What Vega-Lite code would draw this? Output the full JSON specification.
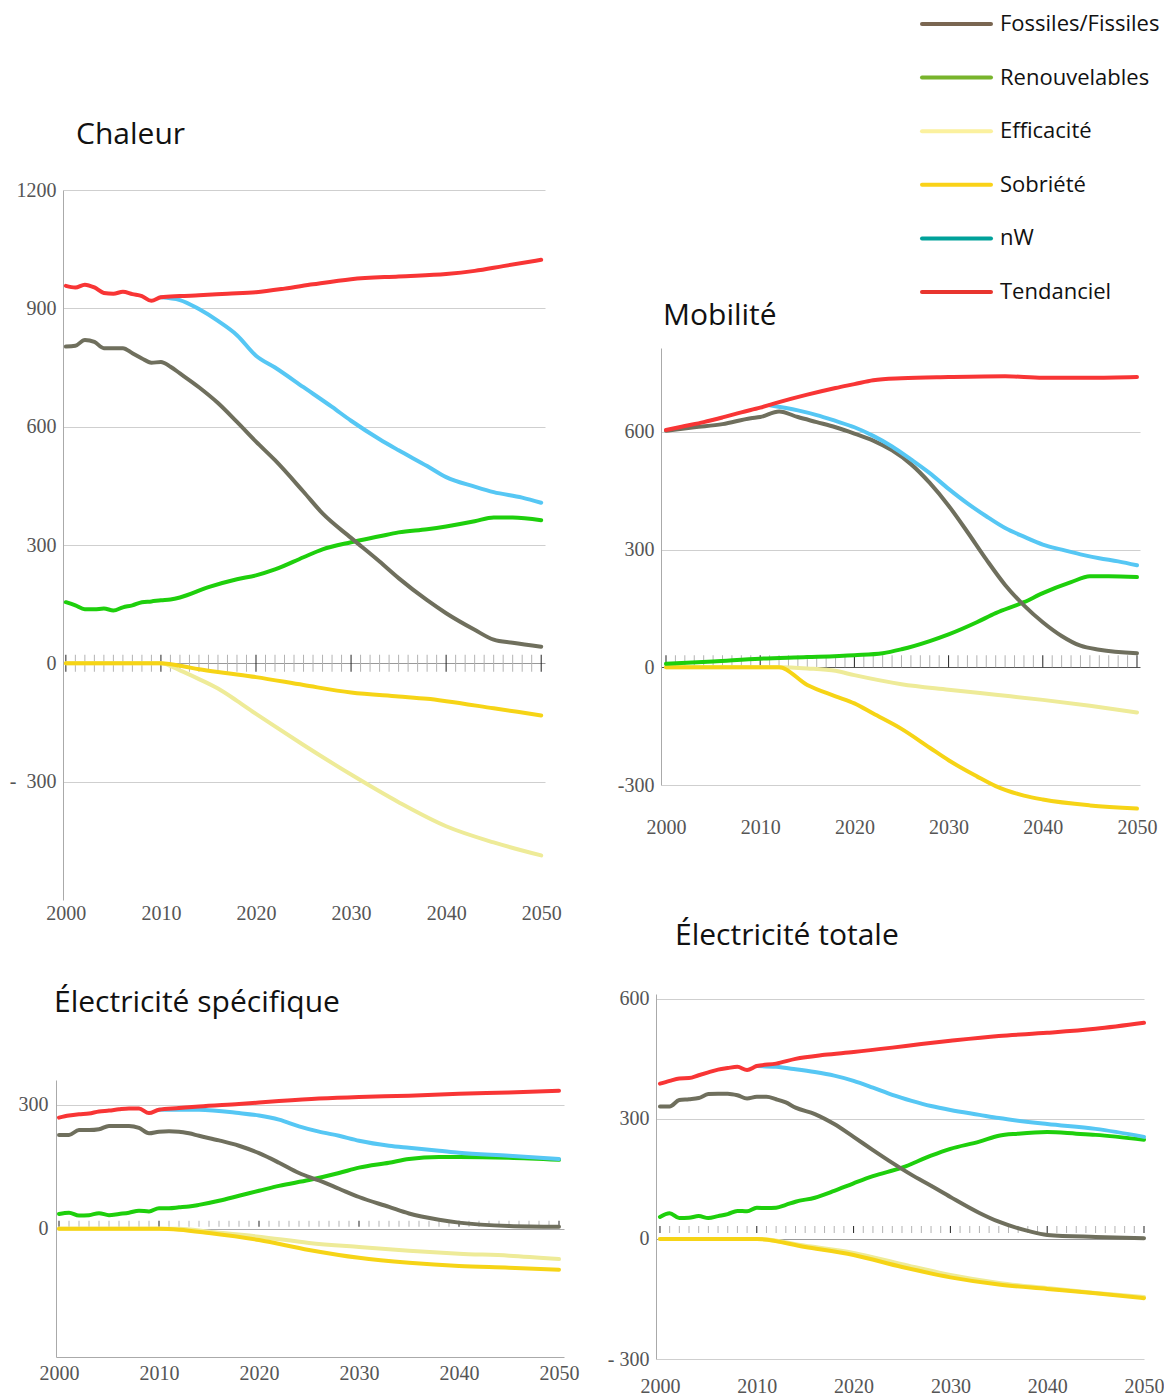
{
  "$schema": "https://vega.github.io/schema/vega-lite/v6.json",
  "background": "white",
  "padding": {"left": 9, "top": 0, "right": 0, "bottom": 0},
  "autosize": {"type": "pad"},
  "config": {
    "view": {"stroke": null},
    "axis": {"labelFont": "Liberation Serif", "labelFontSize": 20, "labelColor": "#555555", "ticks": false, "gridColor": "#cfcfcf", "domainColor": "#aaaaaa", "labelFlush": false, "labelOverlap": false},
    "title": {"font": "Open Sans", "fontSize": 30, "fontWeight": "normal", "color": "#111111", "anchor": "start", "frame": "group", "baseline": "alphabetic"}
  },
  "datasets": {
    "annees": [{"annee":2000},{"annee":2001},{"annee":2002},{"annee":2003},{"annee":2004},{"annee":2005},{"annee":2006},{"annee":2007},{"annee":2008},{"annee":2009},{"annee":2010},{"annee":2011},{"annee":2012},{"annee":2013},{"annee":2014},{"annee":2015},{"annee":2016},{"annee":2017},{"annee":2018},{"annee":2019},{"annee":2020},{"annee":2021},{"annee":2022},{"annee":2023},{"annee":2024},{"annee":2025},{"annee":2026},{"annee":2027},{"annee":2028},{"annee":2029},{"annee":2030},{"annee":2031},{"annee":2032},{"annee":2033},{"annee":2034},{"annee":2035},{"annee":2036},{"annee":2037},{"annee":2038},{"annee":2039},{"annee":2040},{"annee":2041},{"annee":2042},{"annee":2043},{"annee":2044},{"annee":2045},{"annee":2046},{"annee":2047},{"annee":2048},{"annee":2049},{"annee":2050}],
    "legende": [{"serie":"Fossiles/Fissiles"},{"serie":"Renouvelables"},{"serie":"Efficacité"},{"serie":"Sobriété"},{"serie":"nW"},{"serie":"Tendanciel"}],
    "chaleur": [
      {"serie":"Efficacité","annee":2000,"valeur":0},{"serie":"Efficacité","annee":2005,"valeur":0},{"serie":"Efficacité","annee":2010,"valeur":0},{"serie":"Efficacité","annee":2012,"valeur":-18},{"serie":"Efficacité","annee":2014,"valeur":-40},{"serie":"Efficacité","annee":2016,"valeur":-64},{"serie":"Efficacité","annee":2018,"valeur":-95},{"serie":"Efficacité","annee":2020,"valeur":-128},{"serie":"Efficacité","annee":2022,"valeur":-160},{"serie":"Efficacité","annee":2025,"valeur":-207},{"serie":"Efficacité","annee":2030,"valeur":-282},{"serie":"Efficacité","annee":2035,"valeur":-352},{"serie":"Efficacité","annee":2040,"valeur":-413},{"serie":"Efficacité","annee":2045,"valeur":-454},{"serie":"Efficacité","annee":2050,"valeur":-487},
      {"serie":"Sobriété","annee":2000,"valeur":0},{"serie":"Sobriété","annee":2005,"valeur":0},{"serie":"Sobriété","annee":2010,"valeur":0},{"serie":"Sobriété","annee":2012,"valeur":-6},{"serie":"Sobriété","annee":2014,"valeur":-15},{"serie":"Sobriété","annee":2017,"valeur":-25},{"serie":"Sobriété","annee":2020,"valeur":-35},{"serie":"Sobriété","annee":2025,"valeur":-55},{"serie":"Sobriété","annee":2030,"valeur":-74},{"serie":"Sobriété","annee":2035,"valeur":-84},{"serie":"Sobriété","annee":2038,"valeur":-90},{"serie":"Sobriété","annee":2040,"valeur":-96},{"serie":"Sobriété","annee":2045,"valeur":-114},{"serie":"Sobriété","annee":2050,"valeur":-132},
      {"serie":"Renouvelables","annee":2000,"valeur":155},{"serie":"Renouvelables","annee":2001,"valeur":147},{"serie":"Renouvelables","annee":2002,"valeur":137},{"serie":"Renouvelables","annee":2003,"valeur":137},{"serie":"Renouvelables","annee":2004,"valeur":139},{"serie":"Renouvelables","annee":2005,"valeur":134},{"serie":"Renouvelables","annee":2006,"valeur":142},{"serie":"Renouvelables","annee":2007,"valeur":147},{"serie":"Renouvelables","annee":2008,"valeur":155},{"serie":"Renouvelables","annee":2009,"valeur":157},{"serie":"Renouvelables","annee":2010,"valeur":160},{"serie":"Renouvelables","annee":2011,"valeur":162},{"serie":"Renouvelables","annee":2012,"valeur":167},{"serie":"Renouvelables","annee":2015,"valeur":193},{"serie":"Renouvelables","annee":2018,"valeur":213},{"serie":"Renouvelables","annee":2020,"valeur":223},{"serie":"Renouvelables","annee":2022,"valeur":238},{"serie":"Renouvelables","annee":2025,"valeur":269},{"serie":"Renouvelables","annee":2027,"valeur":289},{"serie":"Renouvelables","annee":2030,"valeur":307},{"serie":"Renouvelables","annee":2033,"valeur":322},{"serie":"Renouvelables","annee":2035,"valeur":332},{"serie":"Renouvelables","annee":2038,"valeur":340},{"serie":"Renouvelables","annee":2040,"valeur":347},{"serie":"Renouvelables","annee":2043,"valeur":360},{"serie":"Renouvelables","annee":2045,"valeur":370},{"serie":"Renouvelables","annee":2047,"valeur":370},{"serie":"Renouvelables","annee":2050,"valeur":363},
      {"serie":"Fossiles/Fissiles","annee":2000,"valeur":803},{"serie":"Fossiles/Fissiles","annee":2001,"valeur":805},{"serie":"Fossiles/Fissiles","annee":2002,"valeur":820},{"serie":"Fossiles/Fissiles","annee":2003,"valeur":815},{"serie":"Fossiles/Fissiles","annee":2004,"valeur":799},{"serie":"Fossiles/Fissiles","annee":2005,"valeur":799},{"serie":"Fossiles/Fissiles","annee":2006,"valeur":799},{"serie":"Fossiles/Fissiles","annee":2007,"valeur":786},{"serie":"Fossiles/Fissiles","annee":2008,"valeur":773},{"serie":"Fossiles/Fissiles","annee":2009,"valeur":762},{"serie":"Fossiles/Fissiles","annee":2010,"valeur":764},{"serie":"Fossiles/Fissiles","annee":2011,"valeur":752},{"serie":"Fossiles/Fissiles","annee":2012,"valeur":735},{"serie":"Fossiles/Fissiles","annee":2014,"valeur":700},{"serie":"Fossiles/Fissiles","annee":2016,"valeur":660},{"serie":"Fossiles/Fissiles","annee":2018,"valeur":612},{"serie":"Fossiles/Fissiles","annee":2020,"valeur":562},{"serie":"Fossiles/Fissiles","annee":2022,"valeur":515},{"serie":"Fossiles/Fissiles","annee":2025,"valeur":435},{"serie":"Fossiles/Fissiles","annee":2027,"valeur":380},{"serie":"Fossiles/Fissiles","annee":2030,"valeur":318},{"serie":"Fossiles/Fissiles","annee":2033,"valeur":258},{"serie":"Fossiles/Fissiles","annee":2035,"valeur":216},{"serie":"Fossiles/Fissiles","annee":2038,"valeur":160},{"serie":"Fossiles/Fissiles","annee":2040,"valeur":127},{"serie":"Fossiles/Fissiles","annee":2043,"valeur":85},{"serie":"Fossiles/Fissiles","annee":2045,"valeur":60},{"serie":"Fossiles/Fissiles","annee":2047,"valeur":52},{"serie":"Fossiles/Fissiles","annee":2050,"valeur":42},
      {"serie":"nW","annee":2010,"valeur":928},{"serie":"nW","annee":2012,"valeur":921},{"serie":"nW","annee":2014,"valeur":898},{"serie":"nW","annee":2016,"valeur":868},{"serie":"nW","annee":2018,"valeur":832},{"serie":"nW","annee":2020,"valeur":780},{"serie":"nW","annee":2022,"valeur":750},{"serie":"nW","annee":2025,"valeur":700},{"serie":"nW","annee":2028,"valeur":650},{"serie":"nW","annee":2030,"valeur":615},{"serie":"nW","annee":2033,"valeur":568},{"serie":"nW","annee":2035,"valeur":540},{"serie":"nW","annee":2038,"valeur":500},{"serie":"nW","annee":2040,"valeur":472},{"serie":"nW","annee":2043,"valeur":448},{"serie":"nW","annee":2045,"valeur":434},{"serie":"nW","annee":2048,"valeur":420},{"serie":"nW","annee":2050,"valeur":407},
      {"serie":"Tendanciel","annee":2000,"valeur":957},{"serie":"Tendanciel","annee":2001,"valeur":953},{"serie":"Tendanciel","annee":2002,"valeur":960},{"serie":"Tendanciel","annee":2003,"valeur":953},{"serie":"Tendanciel","annee":2004,"valeur":939},{"serie":"Tendanciel","annee":2005,"valeur":937},{"serie":"Tendanciel","annee":2006,"valeur":942},{"serie":"Tendanciel","annee":2007,"valeur":936},{"serie":"Tendanciel","annee":2008,"valeur":931},{"serie":"Tendanciel","annee":2009,"valeur":919},{"serie":"Tendanciel","annee":2010,"valeur":928},{"serie":"Tendanciel","annee":2012,"valeur":931},{"serie":"Tendanciel","annee":2014,"valeur":933},{"serie":"Tendanciel","annee":2017,"valeur":937},{"serie":"Tendanciel","annee":2020,"valeur":941},{"serie":"Tendanciel","annee":2023,"valeur":950},{"serie":"Tendanciel","annee":2026,"valeur":961},{"serie":"Tendanciel","annee":2030,"valeur":974},{"serie":"Tendanciel","annee":2035,"valeur":981},{"serie":"Tendanciel","annee":2040,"valeur":987},{"serie":"Tendanciel","annee":2043,"valeur":995},{"serie":"Tendanciel","annee":2046,"valeur":1007},{"serie":"Tendanciel","annee":2050,"valeur":1023}
    ],
    "mobilite": [
      {"serie":"Efficacité","annee":2000,"valeur":0},{"serie":"Efficacité","annee":2012,"valeur":0},{"serie":"Efficacité","annee":2015,"valeur":-3},{"serie":"Efficacité","annee":2018,"valeur":-9},{"serie":"Efficacité","annee":2020,"valeur":-20},{"serie":"Efficacité","annee":2025,"valeur":-43},{"serie":"Efficacité","annee":2030,"valeur":-57},{"serie":"Efficacité","annee":2035,"valeur":-70},{"serie":"Efficacité","annee":2040,"valeur":-83},{"serie":"Efficacité","annee":2045,"valeur":-98},{"serie":"Efficacité","annee":2050,"valeur":-115},
      {"serie":"Sobriété","annee":2000,"valeur":0},{"serie":"Sobriété","annee":2012,"valeur":0},{"serie":"Sobriété","annee":2015,"valeur":-45},{"serie":"Sobriété","annee":2018,"valeur":-74},{"serie":"Sobriété","annee":2020,"valeur":-92},{"serie":"Sobriété","annee":2022,"valeur":-118},{"serie":"Sobriété","annee":2025,"valeur":-157},{"serie":"Sobriété","annee":2028,"valeur":-205},{"serie":"Sobriété","annee":2030,"valeur":-237},{"serie":"Sobriété","annee":2033,"valeur":-278},{"serie":"Sobriété","annee":2035,"valeur":-303},{"serie":"Sobriété","annee":2038,"valeur":-327},{"serie":"Sobriété","annee":2040,"valeur":-337},{"serie":"Sobriété","annee":2045,"valeur":-352},{"serie":"Sobriété","annee":2050,"valeur":-360},
      {"serie":"Renouvelables","annee":2000,"valeur":9},{"serie":"Renouvelables","annee":2005,"valeur":15},{"serie":"Renouvelables","annee":2010,"valeur":22},{"serie":"Renouvelables","annee":2015,"valeur":26},{"serie":"Renouvelables","annee":2020,"valeur":31},{"serie":"Renouvelables","annee":2023,"valeur":36},{"serie":"Renouvelables","annee":2025,"valeur":46},{"serie":"Renouvelables","annee":2028,"valeur":67},{"serie":"Renouvelables","annee":2030,"valeur":84},{"serie":"Renouvelables","annee":2033,"valeur":115},{"serie":"Renouvelables","annee":2035,"valeur":138},{"serie":"Renouvelables","annee":2038,"valeur":166},{"serie":"Renouvelables","annee":2040,"valeur":189},{"serie":"Renouvelables","annee":2043,"valeur":217},{"serie":"Renouvelables","annee":2045,"valeur":232},{"serie":"Renouvelables","annee":2047,"valeur":232},{"serie":"Renouvelables","annee":2050,"valeur":230},
      {"serie":"Fossiles/Fissiles","annee":2000,"valeur":603},{"serie":"Fossiles/Fissiles","annee":2003,"valeur":612},{"serie":"Fossiles/Fissiles","annee":2006,"valeur":620},{"serie":"Fossiles/Fissiles","annee":2009,"valeur":635},{"serie":"Fossiles/Fissiles","annee":2010,"valeur":638},{"serie":"Fossiles/Fissiles","annee":2012,"valeur":652},{"serie":"Fossiles/Fissiles","annee":2014,"valeur":638},{"serie":"Fossiles/Fissiles","annee":2016,"valeur":625},{"serie":"Fossiles/Fissiles","annee":2018,"valeur":612},{"serie":"Fossiles/Fissiles","annee":2020,"valeur":596},{"serie":"Fossiles/Fissiles","annee":2022,"valeur":578},{"serie":"Fossiles/Fissiles","annee":2024,"valeur":553},{"serie":"Fossiles/Fissiles","annee":2026,"valeur":518},{"serie":"Fossiles/Fissiles","annee":2028,"valeur":470},{"serie":"Fossiles/Fissiles","annee":2030,"valeur":412},{"serie":"Fossiles/Fissiles","annee":2032,"valeur":345},{"serie":"Fossiles/Fissiles","annee":2034,"valeur":275},{"serie":"Fossiles/Fissiles","annee":2036,"valeur":210},{"serie":"Fossiles/Fissiles","annee":2038,"valeur":158},{"serie":"Fossiles/Fissiles","annee":2040,"valeur":115},{"serie":"Fossiles/Fissiles","annee":2042,"valeur":80},{"serie":"Fossiles/Fissiles","annee":2044,"valeur":55},{"serie":"Fossiles/Fissiles","annee":2046,"valeur":45},{"serie":"Fossiles/Fissiles","annee":2050,"valeur":36},
      {"serie":"nW","annee":2011,"valeur":668},{"serie":"nW","annee":2014,"valeur":655},{"serie":"nW","annee":2016,"valeur":643},{"serie":"nW","annee":2018,"valeur":628},{"serie":"nW","annee":2020,"valeur":612},{"serie":"nW","annee":2022,"valeur":590},{"serie":"nW","annee":2024,"valeur":563},{"serie":"nW","annee":2026,"valeur":530},{"serie":"nW","annee":2028,"valeur":495},{"serie":"nW","annee":2030,"valeur":455},{"serie":"nW","annee":2032,"valeur":418},{"serie":"nW","annee":2034,"valeur":385},{"serie":"nW","annee":2036,"valeur":355},{"serie":"nW","annee":2038,"valeur":333},{"serie":"nW","annee":2040,"valeur":313},{"serie":"nW","annee":2042,"valeur":300},{"serie":"nW","annee":2044,"valeur":288},{"serie":"nW","annee":2046,"valeur":278},{"serie":"nW","annee":2048,"valeur":270},{"serie":"nW","annee":2050,"valeur":260},
      {"serie":"Tendanciel","annee":2000,"valeur":605},{"serie":"Tendanciel","annee":2002,"valeur":615},{"serie":"Tendanciel","annee":2004,"valeur":625},{"serie":"Tendanciel","annee":2006,"valeur":637},{"serie":"Tendanciel","annee":2008,"valeur":650},{"serie":"Tendanciel","annee":2010,"valeur":662},{"serie":"Tendanciel","annee":2012,"valeur":676},{"serie":"Tendanciel","annee":2015,"valeur":695},{"serie":"Tendanciel","annee":2018,"valeur":712},{"serie":"Tendanciel","annee":2020,"valeur":722},{"serie":"Tendanciel","annee":2022,"valeur":732},{"serie":"Tendanciel","annee":2025,"valeur":737},{"serie":"Tendanciel","annee":2030,"valeur":740},{"serie":"Tendanciel","annee":2036,"valeur":742},{"serie":"Tendanciel","annee":2040,"valeur":738},{"serie":"Tendanciel","annee":2045,"valeur":738},{"serie":"Tendanciel","annee":2050,"valeur":740}
    ],
    "elecspe": [
      {"serie":"Efficacité","annee":2000,"valeur":0},{"serie":"Efficacité","annee":2012,"valeur":0},{"serie":"Efficacité","annee":2015,"valeur":-7},{"serie":"Efficacité","annee":2020,"valeur":-19},{"serie":"Efficacité","annee":2025,"valeur":-34},{"serie":"Efficacité","annee":2030,"valeur":-44},{"serie":"Efficacité","annee":2035,"valeur":-53},{"serie":"Efficacité","annee":2040,"valeur":-60},{"serie":"Efficacité","annee":2045,"valeur":-65},{"serie":"Efficacité","annee":2050,"valeur":-73},
      {"serie":"Sobriété","annee":2000,"valeur":0},{"serie":"Sobriété","annee":2010,"valeur":0},{"serie":"Sobriété","annee":2012,"valeur":-2},{"serie":"Sobriété","annee":2015,"valeur":-10},{"serie":"Sobriété","annee":2020,"valeur":-27},{"serie":"Sobriété","annee":2025,"valeur":-51},{"serie":"Sobriété","annee":2030,"valeur":-70},{"serie":"Sobriété","annee":2035,"valeur":-82},{"serie":"Sobriété","annee":2040,"valeur":-90},{"serie":"Sobriété","annee":2045,"valeur":-94},{"serie":"Sobriété","annee":2050,"valeur":-99},
      {"serie":"Renouvelables","annee":2000,"valeur":36},{"serie":"Renouvelables","annee":2001,"valeur":39},{"serie":"Renouvelables","annee":2002,"valeur":32},{"serie":"Renouvelables","annee":2003,"valeur":33},{"serie":"Renouvelables","annee":2004,"valeur":38},{"serie":"Renouvelables","annee":2005,"valeur":33},{"serie":"Renouvelables","annee":2006,"valeur":36},{"serie":"Renouvelables","annee":2007,"valeur":39},{"serie":"Renouvelables","annee":2008,"valeur":44},{"serie":"Renouvelables","annee":2009,"valeur":42},{"serie":"Renouvelables","annee":2010,"valeur":50},{"serie":"Renouvelables","annee":2011,"valeur":50},{"serie":"Renouvelables","annee":2012,"valeur":52},{"serie":"Renouvelables","annee":2013,"valeur":54},{"serie":"Renouvelables","annee":2014,"valeur":58},{"serie":"Renouvelables","annee":2016,"valeur":68},{"serie":"Renouvelables","annee":2018,"valeur":80},{"serie":"Renouvelables","annee":2020,"valeur":92},{"serie":"Renouvelables","annee":2022,"valeur":104},{"serie":"Renouvelables","annee":2025,"valeur":118},{"serie":"Renouvelables","annee":2028,"valeur":135},{"serie":"Renouvelables","annee":2030,"valeur":148},{"serie":"Renouvelables","annee":2033,"valeur":160},{"serie":"Renouvelables","annee":2035,"valeur":169},{"serie":"Renouvelables","annee":2038,"valeur":174},{"serie":"Renouvelables","annee":2040,"valeur":174},{"serie":"Renouvelables","annee":2045,"valeur":172},{"serie":"Renouvelables","annee":2050,"valeur":167},
      {"serie":"Fossiles/Fissiles","annee":2000,"valeur":227},{"serie":"Fossiles/Fissiles","annee":2001,"valeur":227},{"serie":"Fossiles/Fissiles","annee":2002,"valeur":239},{"serie":"Fossiles/Fissiles","annee":2003,"valeur":239},{"serie":"Fossiles/Fissiles","annee":2004,"valeur":241},{"serie":"Fossiles/Fissiles","annee":2005,"valeur":249},{"serie":"Fossiles/Fissiles","annee":2006,"valeur":249},{"serie":"Fossiles/Fissiles","annee":2007,"valeur":249},{"serie":"Fossiles/Fissiles","annee":2008,"valeur":244},{"serie":"Fossiles/Fissiles","annee":2009,"valeur":231},{"serie":"Fossiles/Fissiles","annee":2010,"valeur":235},{"serie":"Fossiles/Fissiles","annee":2011,"valeur":236},{"serie":"Fossiles/Fissiles","annee":2012,"valeur":235},{"serie":"Fossiles/Fissiles","annee":2013,"valeur":231},{"serie":"Fossiles/Fissiles","annee":2014,"valeur":225},{"serie":"Fossiles/Fissiles","annee":2016,"valeur":214},{"serie":"Fossiles/Fissiles","annee":2018,"valeur":201},{"serie":"Fossiles/Fissiles","annee":2020,"valeur":183},{"serie":"Fossiles/Fissiles","annee":2022,"valeur":160},{"serie":"Fossiles/Fissiles","annee":2024,"valeur":135},{"serie":"Fossiles/Fissiles","annee":2026,"valeur":117},{"serie":"Fossiles/Fissiles","annee":2028,"valeur":97},{"serie":"Fossiles/Fissiles","annee":2030,"valeur":77},{"serie":"Fossiles/Fissiles","annee":2033,"valeur":53},{"serie":"Fossiles/Fissiles","annee":2035,"valeur":37},{"serie":"Fossiles/Fissiles","annee":2038,"valeur":22},{"serie":"Fossiles/Fissiles","annee":2040,"valeur":15},{"serie":"Fossiles/Fissiles","annee":2045,"valeur":7},{"serie":"Fossiles/Fissiles","annee":2050,"valeur":5},
      {"serie":"nW","annee":2010,"valeur":288},{"serie":"nW","annee":2014,"valeur":288},{"serie":"nW","annee":2018,"valeur":280},{"serie":"nW","annee":2020,"valeur":274},{"serie":"nW","annee":2022,"valeur":264},{"serie":"nW","annee":2024,"valeur":248},{"serie":"nW","annee":2026,"valeur":235},{"serie":"nW","annee":2028,"valeur":225},{"serie":"nW","annee":2030,"valeur":213},{"serie":"nW","annee":2033,"valeur":201},{"serie":"nW","annee":2035,"valeur":196},{"serie":"nW","annee":2038,"valeur":189},{"serie":"nW","annee":2040,"valeur":184},{"serie":"nW","annee":2045,"valeur":177},{"serie":"nW","annee":2050,"valeur":169},
      {"serie":"Tendanciel","annee":2000,"valeur":269},{"serie":"Tendanciel","annee":2001,"valeur":274},{"serie":"Tendanciel","annee":2002,"valeur":277},{"serie":"Tendanciel","annee":2003,"valeur":279},{"serie":"Tendanciel","annee":2004,"valeur":284},{"serie":"Tendanciel","annee":2005,"valeur":286},{"serie":"Tendanciel","annee":2006,"valeur":289},{"serie":"Tendanciel","annee":2007,"valeur":291},{"serie":"Tendanciel","annee":2008,"valeur":291},{"serie":"Tendanciel","annee":2009,"valeur":280},{"serie":"Tendanciel","annee":2010,"valeur":288},{"serie":"Tendanciel","annee":2012,"valeur":292},{"serie":"Tendanciel","annee":2014,"valeur":296},{"serie":"Tendanciel","annee":2018,"valeur":302},{"serie":"Tendanciel","annee":2022,"valeur":309},{"serie":"Tendanciel","annee":2026,"valeur":315},{"serie":"Tendanciel","annee":2030,"valeur":319},{"serie":"Tendanciel","annee":2035,"valeur":322},{"serie":"Tendanciel","annee":2040,"valeur":327},{"serie":"Tendanciel","annee":2045,"valeur":330},{"serie":"Tendanciel","annee":2050,"valeur":334}
    ],
    "electot": [
      {"serie":"Efficacité","annee":2000,"valeur":0},{"serie":"Efficacité","annee":2010,"valeur":0},{"serie":"Efficacité","annee":2015,"valeur":-17},{"serie":"Efficacité","annee":2020,"valeur":-35},{"serie":"Efficacité","annee":2025,"valeur":-63},{"serie":"Efficacité","annee":2030,"valeur":-90},{"serie":"Efficacité","annee":2035,"valeur":-110},{"serie":"Efficacité","annee":2040,"valeur":-123},{"serie":"Efficacité","annee":2045,"valeur":-135},{"serie":"Efficacité","annee":2050,"valeur":-145},
      {"serie":"Sobriété","annee":2000,"valeur":0},{"serie":"Sobriété","annee":2010,"valeur":0},{"serie":"Sobriété","annee":2015,"valeur":-20},{"serie":"Sobriété","annee":2020,"valeur":-40},{"serie":"Sobriété","annee":2025,"valeur":-70},{"serie":"Sobriété","annee":2030,"valeur":-96},{"serie":"Sobriété","annee":2035,"valeur":-114},{"serie":"Sobriété","annee":2040,"valeur":-125},{"serie":"Sobriété","annee":2045,"valeur":-136},{"serie":"Sobriété","annee":2050,"valeur":-148},
      {"serie":"Renouvelables","annee":2000,"valeur":55},{"serie":"Renouvelables","annee":2001,"valeur":64},{"serie":"Renouvelables","annee":2002,"valeur":52},{"serie":"Renouvelables","annee":2003,"valeur":53},{"serie":"Renouvelables","annee":2004,"valeur":57},{"serie":"Renouvelables","annee":2005,"valeur":52},{"serie":"Renouvelables","annee":2006,"valeur":57},{"serie":"Renouvelables","annee":2007,"valeur":62},{"serie":"Renouvelables","annee":2008,"valeur":70},{"serie":"Renouvelables","annee":2009,"valeur":69},{"serie":"Renouvelables","annee":2010,"valeur":78},{"serie":"Renouvelables","annee":2011,"valeur":77},{"serie":"Renouvelables","annee":2012,"valeur":78},{"serie":"Renouvelables","annee":2013,"valeur":85},{"serie":"Renouvelables","annee":2014,"valeur":93},{"serie":"Renouvelables","annee":2016,"valeur":103},{"serie":"Renouvelables","annee":2018,"valeur":120},{"serie":"Renouvelables","annee":2020,"valeur":139},{"serie":"Renouvelables","annee":2022,"valeur":157},{"serie":"Renouvelables","annee":2025,"valeur":178},{"serie":"Renouvelables","annee":2028,"valeur":208},{"serie":"Renouvelables","annee":2030,"valeur":225},{"serie":"Renouvelables","annee":2033,"valeur":243},{"serie":"Renouvelables","annee":2035,"valeur":258},{"serie":"Renouvelables","annee":2037,"valeur":263},{"serie":"Renouvelables","annee":2040,"valeur":267},{"serie":"Renouvelables","annee":2043,"valeur":263},{"serie":"Renouvelables","annee":2045,"valeur":260},{"serie":"Renouvelables","annee":2050,"valeur":248},
      {"serie":"Fossiles/Fissiles","annee":2000,"valeur":331},{"serie":"Fossiles/Fissiles","annee":2001,"valeur":331},{"serie":"Fossiles/Fissiles","annee":2002,"valeur":347},{"serie":"Fossiles/Fissiles","annee":2003,"valeur":349},{"serie":"Fossiles/Fissiles","annee":2004,"valeur":352},{"serie":"Fossiles/Fissiles","annee":2005,"valeur":362},{"serie":"Fossiles/Fissiles","annee":2006,"valeur":363},{"serie":"Fossiles/Fissiles","annee":2007,"valeur":363},{"serie":"Fossiles/Fissiles","annee":2008,"valeur":359},{"serie":"Fossiles/Fissiles","annee":2009,"valeur":351},{"serie":"Fossiles/Fissiles","annee":2010,"valeur":355},{"serie":"Fossiles/Fissiles","annee":2011,"valeur":355},{"serie":"Fossiles/Fissiles","annee":2012,"valeur":349},{"serie":"Fossiles/Fissiles","annee":2013,"valeur":341},{"serie":"Fossiles/Fissiles","annee":2014,"valeur":328},{"serie":"Fossiles/Fissiles","annee":2016,"valeur":312},{"serie":"Fossiles/Fissiles","annee":2018,"valeur":287},{"serie":"Fossiles/Fissiles","annee":2020,"valeur":255},{"serie":"Fossiles/Fissiles","annee":2022,"valeur":222},{"serie":"Fossiles/Fissiles","annee":2024,"valeur":190},{"serie":"Fossiles/Fissiles","annee":2026,"valeur":160},{"serie":"Fossiles/Fissiles","annee":2028,"valeur":133},{"serie":"Fossiles/Fissiles","annee":2030,"valeur":105},{"serie":"Fossiles/Fissiles","annee":2033,"valeur":65},{"serie":"Fossiles/Fissiles","annee":2035,"valeur":43},{"serie":"Fossiles/Fissiles","annee":2038,"valeur":20},{"serie":"Fossiles/Fissiles","annee":2040,"valeur":10},{"serie":"Fossiles/Fissiles","annee":2045,"valeur":5},{"serie":"Fossiles/Fissiles","annee":2050,"valeur":2},
      {"serie":"nW","annee":2010,"valeur":432},{"serie":"nW","annee":2012,"valeur":430},{"serie":"nW","annee":2014,"valeur":424},{"serie":"nW","annee":2016,"valeur":417},{"serie":"nW","annee":2018,"valeur":408},{"serie":"nW","annee":2020,"valeur":395},{"serie":"nW","annee":2022,"valeur":378},{"serie":"nW","annee":2024,"valeur":360},{"serie":"nW","annee":2026,"valeur":345},{"serie":"nW","annee":2028,"valeur":332},{"serie":"nW","annee":2030,"valeur":322},{"serie":"nW","annee":2033,"valeur":310},{"serie":"nW","annee":2035,"valeur":302},{"serie":"nW","annee":2040,"valeur":287},{"serie":"nW","annee":2045,"valeur":275},{"serie":"nW","annee":2050,"valeur":255},
      {"serie":"Tendanciel","annee":2000,"valeur":388},{"serie":"Tendanciel","annee":2001,"valeur":395},{"serie":"Tendanciel","annee":2002,"valeur":401},{"serie":"Tendanciel","annee":2003,"valeur":402},{"serie":"Tendanciel","annee":2004,"valeur":409},{"serie":"Tendanciel","annee":2005,"valeur":416},{"serie":"Tendanciel","annee":2006,"valeur":423},{"serie":"Tendanciel","annee":2007,"valeur":427},{"serie":"Tendanciel","annee":2008,"valeur":430},{"serie":"Tendanciel","annee":2009,"valeur":422},{"serie":"Tendanciel","annee":2010,"valeur":432},{"serie":"Tendanciel","annee":2012,"valeur":438},{"serie":"Tendanciel","annee":2014,"valeur":450},{"serie":"Tendanciel","annee":2017,"valeur":460},{"serie":"Tendanciel","annee":2020,"valeur":467},{"serie":"Tendanciel","annee":2024,"valeur":478},{"serie":"Tendanciel","annee":2027,"valeur":487},{"serie":"Tendanciel","annee":2030,"valeur":495},{"serie":"Tendanciel","annee":2035,"valeur":507},{"serie":"Tendanciel","annee":2040,"valeur":515},{"serie":"Tendanciel","annee":2045,"valeur":525},{"serie":"Tendanciel","annee":2050,"valeur":540}
    ]
  },
  "hconcat": [
    {
      "vconcat": [
        {
          "vconcat": [
            {"width": 1, "height": 1, "data": {"values": [{"a": 0}]}, "mark": {"type": "point", "opacity": 0}},
            {
              "hconcat": [
                {"width": 1, "height": 1, "data": {"values": [{"a": 0}]}, "mark": {"type": "point", "opacity": 0}},
                {
                  "width": 482, "height": 710,
                  "title": {"text": "Chaleur", "dx": 13, "offset": 30},
                  "encoding": {"x": {"field": "annee", "type": "quantitative", "scale": {"domain": [1999.7, 2050.4], "nice": false, "zero": false}, "axis": {"values": [2000, 2010, 2020, 2030, 2040, 2050], "format": "d", "grid": false, "domain": false, "labelPadding": 3, "title": null}}},
                  "layer": [
                    {"data": {"name": "annees"}, "mark": {"type": "tick", "orient": "vertical", "size": 17, "thickness": 1, "opacity": 1}, "encoding": {"y": {"datum": 0, "type": "quantitative"}, "color": {"condition": {"test": "datum.annee % 10 == 0", "value": "#222222"}, "value": "#b3b3b3"}}},
                    {"data": {"name": "chaleur"}, "mark": {"type": "line", "strokeWidth": 4, "interpolate": "monotone", "strokeCap": "round", "strokeJoin": "round"}, "encoding": {
                      "y": {"field": "valeur", "type": "quantitative", "scale": {"domain": [-600, 1200], "nice": false, "zero": false}, "axis": {"values": [-300, 0, 300, 600, 900, 1200], "format": "d", "grid": true, "gridColor": {"condition": {"test": "datum.value === 0", "value": "#999999"}, "value": "#cfcfcf"}, "domain": true, "labelPadding": 7, "title": null, "labelExpr": "datum.value < 0 ? '-\u00a0\u00a0300' : datum.label"}},
                      "color": {"field": "serie", "type": "nominal", "scale": {"domain": ["Efficacité", "Sobriété", "Renouvelables", "Fossiles/Fissiles", "nW", "Tendanciel"], "range": ["#eeeb98", "#f6d416", "#1ecf0c", "#6f6f5d", "#56c7f4", "#f83535"]}, "legend": null}}}
                  ]
                }
              ],
              "spacing": -51, "resolve": {"scale": {"color": "independent"}}
            }
          ],
          "spacing": 113, "resolve": {"scale": {"color": "independent"}}
        },
        {
          "width": 508, "height": 277,
          "title": {"text": "Électricité spécifique", "dx": -2, "offset": 62},
          "encoding": {"x": {"field": "annee", "type": "quantitative", "scale": {"domain": [1999.7, 2050.5], "nice": false, "zero": false}, "axis": {"values": [2000, 2010, 2020, 2030, 2040, 2050], "format": "d", "grid": false, "domain": true, "labelPadding": 6, "title": null}}},
          "layer": [
            {"data": {"name": "annees"}, "mark": {"type": "tick", "orient": "vertical", "size": 6, "thickness": 1, "opacity": 1, "yOffset": -5}, "encoding": {"y": {"datum": 0, "type": "quantitative"}, "color": {"condition": {"test": "datum.annee % 10 == 0", "value": "#222222"}, "value": "#b3b3b3"}}},
            {"data": {"name": "elecspe"}, "mark": {"type": "line", "strokeWidth": 4, "interpolate": "monotone", "strokeCap": "round", "strokeJoin": "round"}, "encoding": {
              "y": {"field": "valeur", "type": "quantitative", "scale": {"domain": [-310, 360], "nice": false, "zero": false}, "axis": {"values": [0, 300], "format": "d", "grid": true, "gridColor": {"condition": {"test": "datum.value === 0", "value": "#aaaaaa"}, "value": "#cfcfcf"}, "domain": true, "labelPadding": 8, "title": null}},
              "color": {"field": "serie", "type": "nominal", "scale": {"domain": ["Efficacité", "Sobriété", "Renouvelables", "Fossiles/Fissiles", "nW", "Tendanciel"], "range": ["#eeeb98", "#f6d416", "#1ecf0c", "#6f6f5d", "#56c7f4", "#f83535"]}, "legend": null}}}
          ]
        }
      ],
      "spacing": 65, "resolve": {"scale": {"color": "independent"}}
    },
    {
      "vconcat": [
        {
          "vconcat": [
            {
              "width": 503, "height": 250,
              "data": {"name": "legende"},
              "encoding": {"y": {"field": "serie", "type": "nominal", "sort": null, "scale": {"type": "point", "range": [21, 289], "padding": 0}, "axis": null}},
              "layer": [
                {"mark": {"type": "rule", "strokeWidth": 4, "strokeCap": "round"}, "encoding": {"x": {"datum": 266, "type": "quantitative", "scale": {"domain": [0, 503], "nice": false, "zero": false}, "axis": null}, "x2": {"datum": 335}, "color": {"field": "serie", "type": "nominal", "scale": {"domain": ["Fossiles/Fissiles", "Renouvelables", "Efficacité", "Sobriété", "nW", "Tendanciel"], "range": ["#7a6651", "#78b42c", "#fbf19f", "#fad218", "#00a19a", "#e8352e"]}, "legend": null}}},
                {"mark": {"type": "text", "align": "left", "baseline": "middle", "font": "Open Sans", "fontSize": 22, "color": "#111111"}, "encoding": {"x": {"datum": 344, "type": "quantitative", "axis": null}, "text": {"field": "serie", "type": "nominal"}}}
              ]
            },
            {
              "hconcat": [
                {"width": 1, "height": 1, "data": {"values": [{"a": 0}]}, "mark": {"type": "point", "opacity": 0}},
                {
                  "width": 479, "height": 437,
                  "title": {"text": "Mobilité", "dx": 2, "offset": 17},
                  "encoding": {"x": {"field": "annee", "type": "quantitative", "scale": {"domain": [1999.47, 2050.32], "nice": false, "zero": false}, "axis": {"values": [2000, 2010, 2020, 2030, 2040, 2050], "format": "d", "grid": false, "domain": false, "labelPadding": 32, "title": null}}},
                  "layer": [
                    {"data": {"name": "annees"}, "mark": {"type": "tick", "orient": "vertical", "size": 12, "thickness": 1, "opacity": 1, "yOffset": -6}, "encoding": {"y": {"datum": 0, "type": "quantitative"}, "color": {"condition": {"test": "datum.annee % 10 == 0", "value": "#222222"}, "value": "#b3b3b3"}}},
                    {"data": {"name": "mobilite"}, "mark": {"type": "line", "strokeWidth": 4, "interpolate": "monotone", "strokeCap": "round", "strokeJoin": "round"}, "encoding": {
                      "y": {"field": "valeur", "type": "quantitative", "scale": {"domain": [-300, 814], "nice": false, "zero": false}, "axis": {"values": [-300, 0, 300, 600], "format": "d", "grid": true, "gridColor": {"condition": {"test": "datum.value === 0", "value": "#555555"}, "value": "#cfcfcf"}, "domain": true, "labelPadding": 7, "title": null, "labelExpr": "datum.value < 0 ? '-300' : datum.label"}},
                      "color": {"field": "serie", "type": "nominal", "scale": {"domain": ["Efficacité", "Sobriété", "Renouvelables", "Fossiles/Fissiles", "nW", "Tendanciel"], "range": ["#eeeb98", "#f6d416", "#1ecf0c", "#6f6f5d", "#56c7f4", "#f83535"]}, "legend": null}}}
                  ]
                }
              ],
              "spacing": -43, "resolve": {"scale": {"color": "independent"}}
            }
          ],
          "spacing": -2, "resolve": {"scale": {"color": "independent"}}
        },
        {
          "width": 488, "height": 365,
          "title": {"text": "Électricité totale", "dx": 19, "offset": 38},
          "encoding": {"x": {"field": "annee", "type": "quantitative", "scale": {"domain": [1999.59, 2050.0], "nice": false, "zero": false}, "axis": {"values": [2000, 2010, 2020, 2030, 2040, 2050], "format": "d", "grid": false, "domain": false, "labelPadding": 17, "title": null}}},
          "layer": [
            {"data": {"name": "annees"}, "mark": {"type": "tick", "orient": "vertical", "size": 7, "thickness": 1, "opacity": 1, "yOffset": -9.5}, "encoding": {"y": {"datum": 0, "type": "quantitative"}, "color": {"condition": {"test": "datum.annee % 10 == 0", "value": "#222222"}, "value": "#b3b3b3"}}},
            {"data": {"name": "electot"}, "mark": {"type": "line", "strokeWidth": 4, "interpolate": "monotone", "strokeCap": "round", "strokeJoin": "round"}, "encoding": {
              "y": {"field": "valeur", "type": "quantitative", "scale": {"domain": [-300, 612], "nice": false, "zero": false}, "axis": {"values": [-300, 0, 300, 600], "format": "d", "grid": true, "gridColor": {"condition": {"test": "datum.value === 0", "value": "#999999"}, "value": "#cfcfcf"}, "domain": true, "labelPadding": 7, "title": null, "labelExpr": "datum.value < 0 ? '-\u00a0300' : datum.label"}},
              "color": {"field": "serie", "type": "nominal", "scale": {"domain": ["Efficacité", "Sobriété", "Renouvelables", "Fossiles/Fissiles", "nW", "Tendanciel"], "range": ["#eeeb98", "#f6d416", "#1ecf0c", "#6f6f5d", "#56c7f4", "#f83535"]}, "legend": null}}}
          ]
        }
      ],
      "spacing": 83, "resolve": {"scale": {"color": "independent"}}
    }
  ],
  "spacing": 28, "resolve": {"scale": {"color": "independent"}}
}
